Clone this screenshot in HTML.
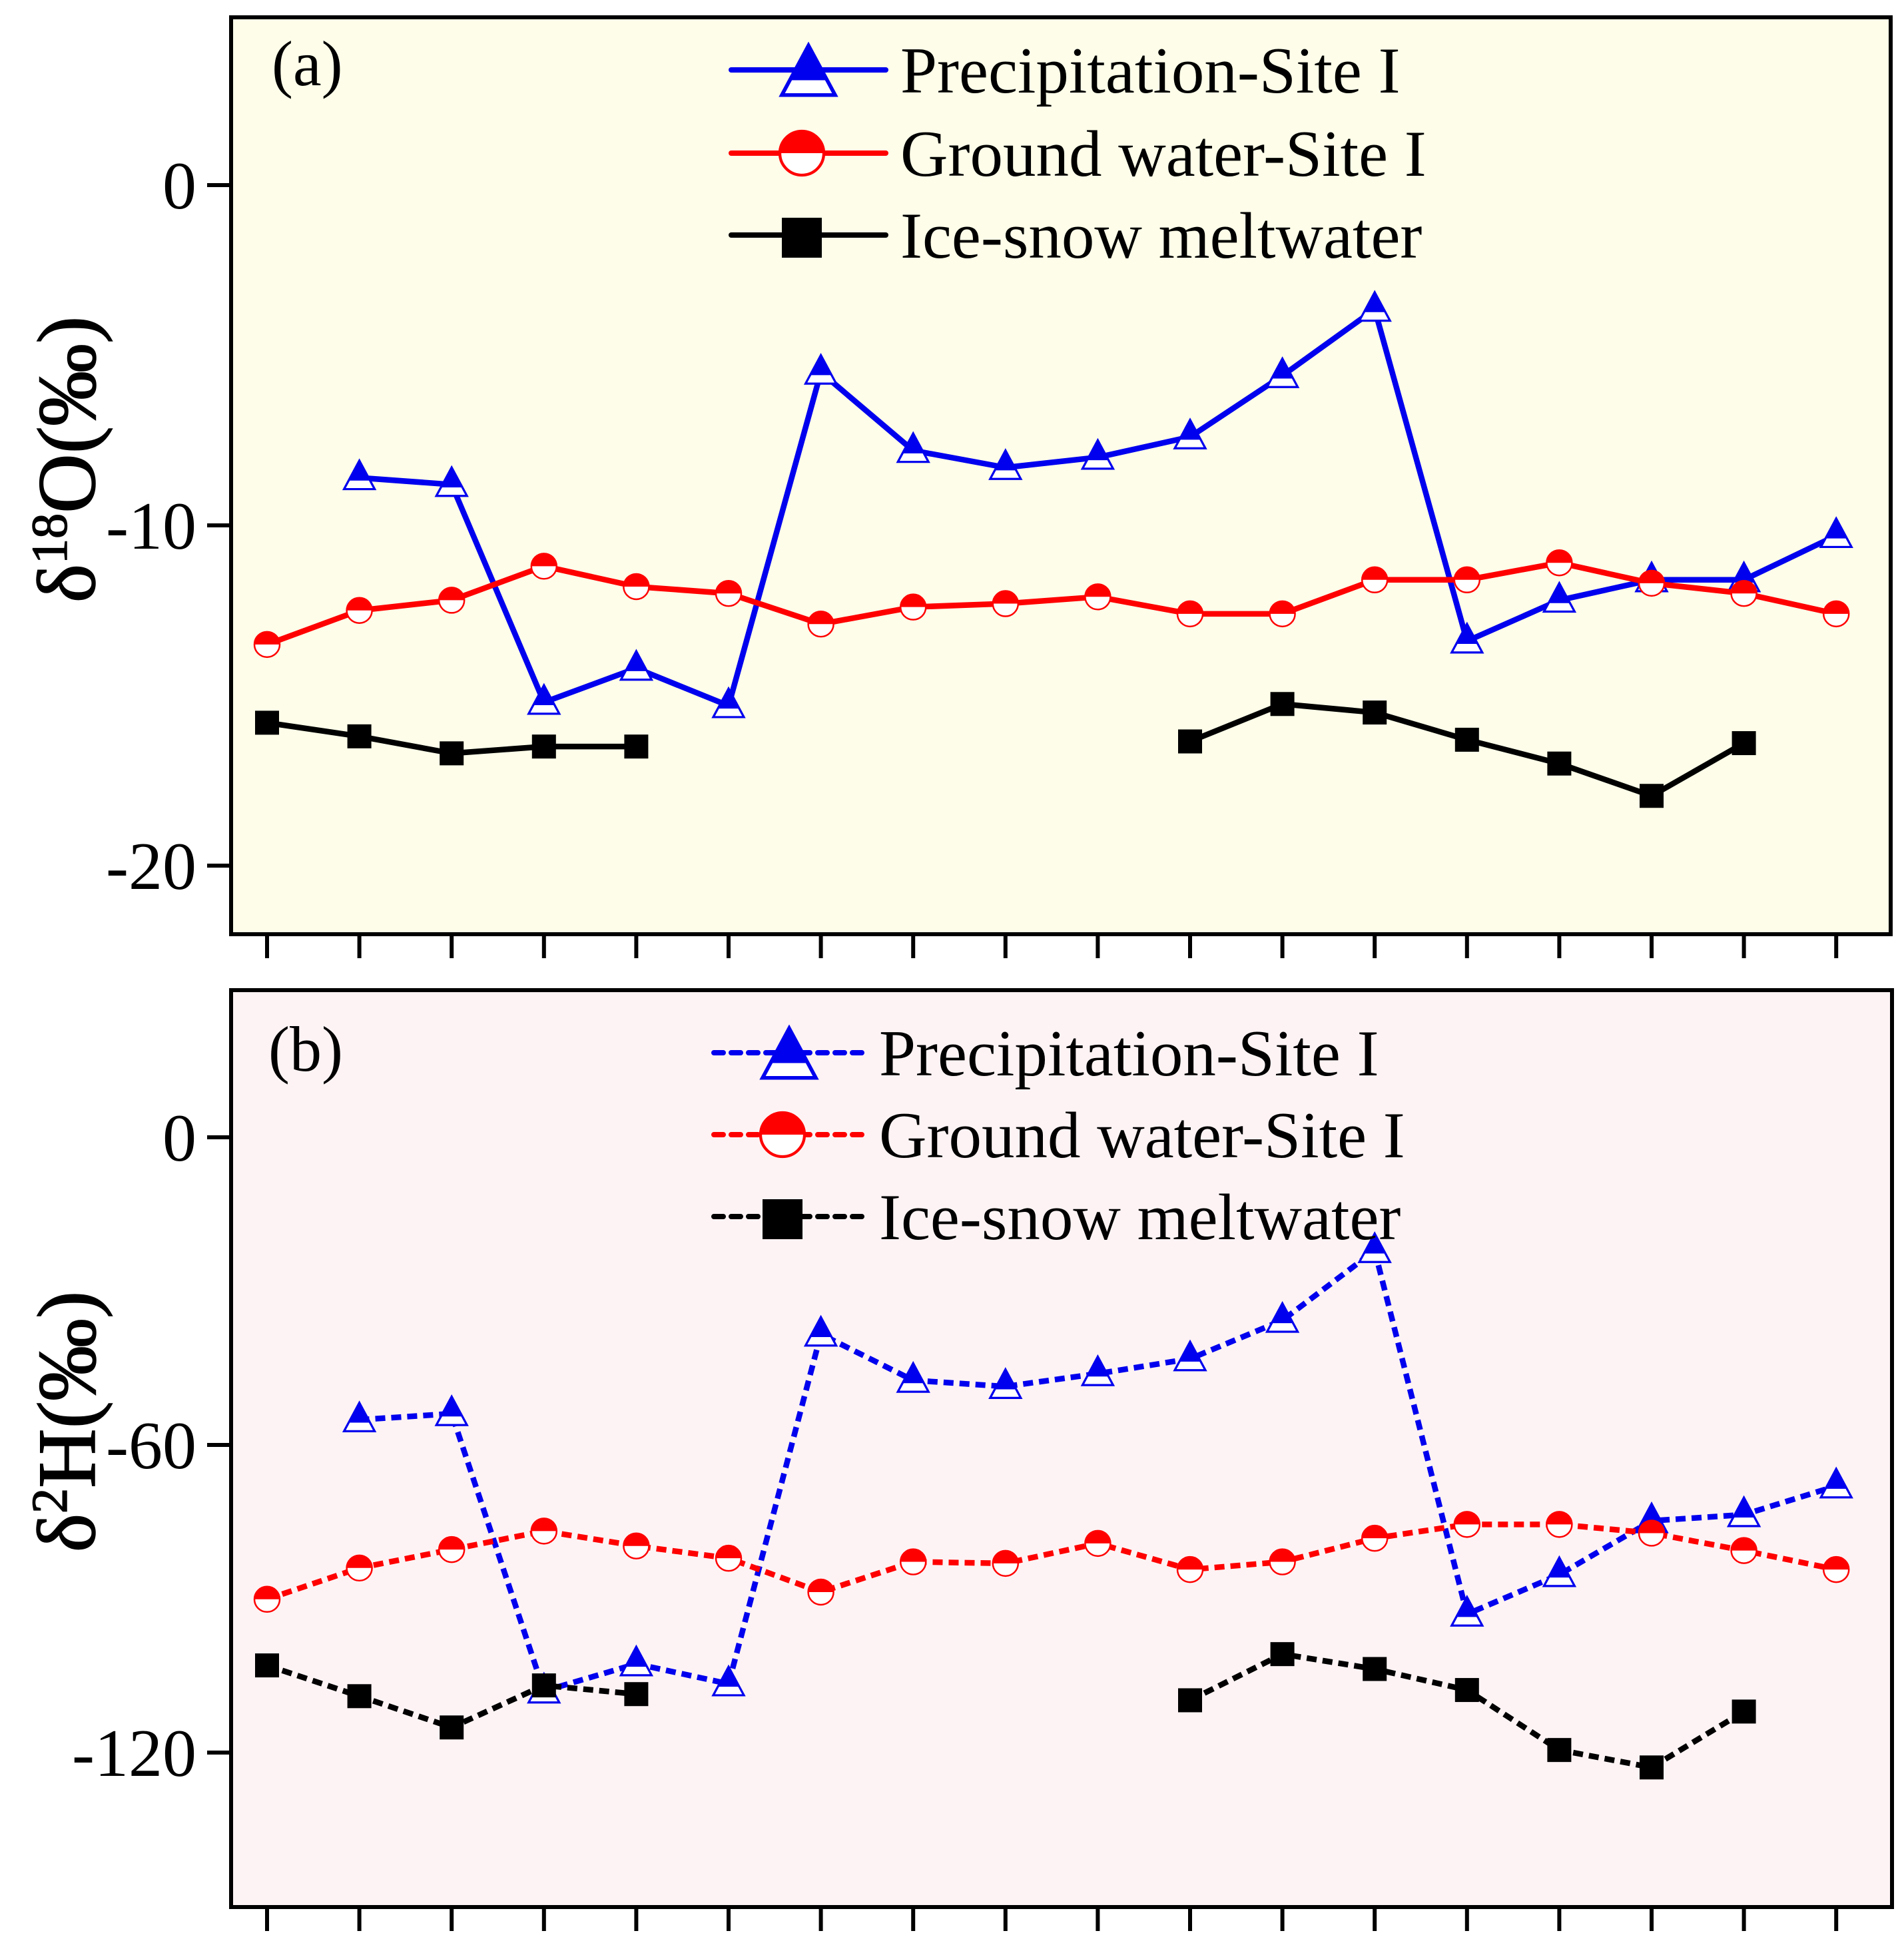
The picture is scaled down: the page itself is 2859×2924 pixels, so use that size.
<!DOCTYPE html>
<html><head><meta charset="utf-8">
<style>
html,body{margin:0;padding:0;background:#fff;}
svg{display:block;font-family:"Liberation Serif","Times New Roman",serif;}
</style></head>
<body>
<svg id="chart" width="2859" height="2924" viewBox="0 0 2859 2924" xmlns="http://www.w3.org/2000/svg">
<g id="root"></g>
</svg>
<script>
// ---- data ----
var categories = [1,2,3,4,5,6,7,8,9,10,11,12,13,14,15,16,17,18];
var precipO = [null,-8.6,-8.8,-15.2,-14.2,-15.3,-5.5,-7.8,-8.3,-8.0,-7.4,-5.6,-3.65,-13.4,-12.2,-11.6,-11.6,-10.3];
var groundO = [-13.5,-12.5,-12.2,-11.2,-11.8,-12.0,-12.9,-12.4,-12.3,-12.1,-12.6,-12.6,-11.6,-11.6,-11.1,-11.7,-12.0,-12.6];
var iceO = [-15.8,-16.2,-16.7,-16.5,-16.5,null,null,null,null,null,-16.35,-15.25,-15.5,-16.3,-17.0,-17.95,-16.4,null];
var precipH = [null,-55.1,-53.9,-108,-102.7,-106.6,-38.4,-47.4,-48.6,-46.1,-43.2,-35.7,-22.1,-93,-85.3,-74.8,-73.6,-68];
var groundH = [-90.1,-84,-80.4,-76.8,-79.7,-82.1,-88.7,-82.8,-83.1,-79.2,-84.3,-82.8,-78.2,-75.5,-75.5,-77.2,-80.6,-84.3];
var iceH = [-103,-109,-115.1,-106.9,-108.6,null,null,null,null,null,-109.8,-100.8,-103.7,-107.8,-119.5,-122.9,-112,null];
var ticksO = [0,-10,-20];
var ticksH = [0,-60,-120];
var seriesNames = ["Precipitation-Site I","Ground water-Site I","Ice-snow meltwater"];

var NS="http://www.w3.org/2000/svg";
var root=document.getElementById('root');
function mk(tag,attrs,parent){var e=document.createElementNS(NS,tag);for(var k in attrs)e.setAttribute(k,attrs[k]);(parent||root).appendChild(e);return e;}

function xScale(i){return 401+i*138.6;}

function triangle(g,cx,cy,s,color){
  var h=s*0.93, top=cy-h*0.6, bot=cy+h*0.4, mid=cy+h*0.1;
  var hw=s/2;
  mk('polygon',{points:(cx)+','+top+' '+(cx-hw)+','+bot+' '+(cx+hw)+','+bot,fill:'#fff',stroke:color,'stroke-width':s*0.07},g);
  var t=(mid-top)/(bot-top);
  mk('polygon',{points:(cx)+','+top+' '+(cx-hw*t)+','+mid+' '+(cx+hw*t)+','+mid,fill:color},g);
}
function circle(g,cx,cy,r,color){
  mk('circle',{cx:cx,cy:cy,r:r,fill:'#fff',stroke:color,'stroke-width':r*0.13},g);
  mk('path',{d:'M'+(cx-r)+','+cy+' A'+r+','+r+' 0 0 1 '+(cx+r)+','+cy+' Z',fill:color},g);
}
function square(g,cx,cy,s){mk('rect',{x:cx-s/2,y:cy-s/2,width:s,height:s,fill:'#000'},g);}

function panel(cfg){
  var g=mk('g',{});
  
  
  var bg=mk('rect',{x:cfg.left,y:cfg.top,width:cfg.right-cfg.left,height:cfg.bottom-cfg.top,fill:cfg.bg},g);
  
  
  var y=function(v){return cfg.y0 - v*cfg.k;};
  var dash=cfg.dashed?'15,9':null;
  var series=[{d:cfg.p,c:'#0000ee',m:'tri'},{d:cfg.g,c:'#ff0000',m:'cir'},{d:cfg.i,c:'#000',m:'sq'}];
  var names=['precipitation-series','groundwater-series','meltwater-series'];
  series.forEach(function(s,si){
    var sg=mk('g',{},g);
    
    
    var seg=[];
    function flush(){if(seg.length>1){var pl=mk('polyline',{points:seg.join(' '),fill:'none',stroke:s.c,'stroke-width':8.5,'stroke-linejoin':'round'},sg);if(dash)pl.setAttribute('stroke-dasharray',dash);}seg=[];}
    s.d.forEach(function(v,i){if(v===null){flush();return;}seg.push(xScale(i)+','+y(v));});
    flush();
    s.d.forEach(function(v,i){if(v===null)return;var cx=xScale(i),cy=y(v);
      if(s.m==='tri')triangle(sg,cx,cy,46,s.c);else if(s.m==='cir')circle(sg,cx,cy,19,s.c);else square(sg,cx,cy,36);});
  });
  var fr=mk('rect',{x:cfg.left,y:cfg.top,width:cfg.right-cfg.left,height:cfg.bottom-cfg.top,fill:'none',stroke:'#000','stroke-width':6},g);
  
  
  categories.forEach(function(c,i){var t=mk('line',{x1:xScale(i),x2:xScale(i),y1:cfg.bottom,y2:cfg.bottom+36,stroke:'#000','stroke-width':6},g);
    });
  cfg.ticks.forEach(function(v){var yy=y(v);
    var t=mk('line',{x1:cfg.left-36,x2:cfg.left,y1:yy,y2:yy,stroke:'#000','stroke-width':6},g);
    
    var tx=mk('text',{x:cfg.left-52,y:yy+35,'font-size':102,'text-anchor':'end',fill:'#000'},g);
    tx.textContent=String(v);
    
  });
  var pl=mk('text',{x:cfg.labX,y:cfg.labY,'font-size':96,fill:'#000'},g);
  pl.textContent=cfg.label;
  
  var yt=mk('text',{x:0,y:0,'font-size':124,'text-anchor':'middle',fill:'#000',stroke:'#000','stroke-width':1.5,transform:'translate(142,'+cfg.titleY+') rotate(-90)'},g);
  yt.innerHTML=cfg.title;
  
  var lg=mk('g',{},g);
  
  series.forEach(function(s,si){
    var ly=cfg.legY[si], x1=cfg.legX1, x2=cfg.legX2, cx=(x1+x2)/2;
    var e=mk('g',{},lg);
    
    var l=mk('line',{x1:x1,x2:x2,y1:ly,y2:ly,stroke:s.c,'stroke-width':8,'stroke-linecap':'round'},e);
    if(dash)l.setAttribute('stroke-dasharray','14,12');
    if(s.m==='tri')triangle(e,cx,ly+8,80,s.c);else if(s.m==='cir')circle(e,cx-10,ly,33,s.c);else square(e,cx-10,ly+4,60);
    var t=mk('text',{x:cfg.legTX,y:ly+34,'font-size':99,fill:'#000'},e);
    t.textContent=seriesNames[si];
  });
}

panel({name:'panel-a-d18O',left:347,right:2839,top:26,bottom:1403,bg:'#fdfde9',y0:278,k:51.1,
  p:precipO,g:groundO,i:iceO,ticks:ticksO,dashed:false,label:'(a)',labX:408,labY:128,
  title:'δ<tspan dy="-42" font-size="76">18</tspan><tspan dy="42">O(‰)</tspan>',titleY:690,
  legX1:1098,legX2:1330,legTX:1352,legY:[105,230,353]});
panel({name:'panel-b-d2H',left:347,right:2841,top:1487,bottom:2864,bg:'#fdf3f4',y0:1708,k:7.7,
  p:precipH,g:groundH,i:iceH,ticks:ticksH,dashed:true,label:'(b)',labX:403,labY:1608,
  title:'δ<tspan dy="-42" font-size="76">2</tspan><tspan dy="42">H(‰)</tspan>',titleY:2135,
  legX1:1072,legX2:1298,legTX:1320,legY:[1581,1704,1827]});
</script>
</body></html>
